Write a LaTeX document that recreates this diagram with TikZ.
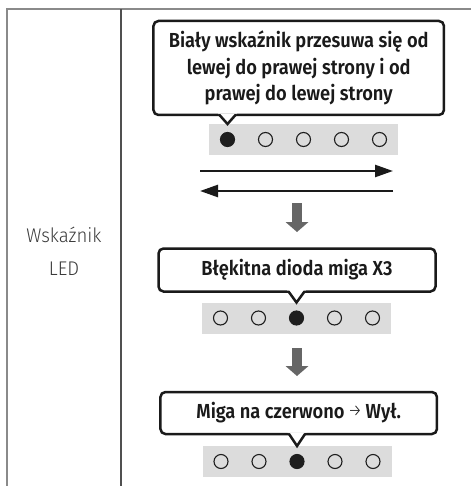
\documentclass[tikz,border=0pt]{standalone}
\usepackage{fontspec}
\setmainfont{Fira Sans}
\newfontfamily\bubblefont{Fira Sans SemiBold}[FakeStretch=0.9]
\newfontfamily\labelfont{Fira Sans Light}[FakeStretch=0.94]
\usetikzlibrary{arrows.meta, positioning, calc}
\definecolor{cFrame}{HTML}{8A8A8A}
\definecolor{cDivide}{HTML}{505050}
\definecolor{cBar}{HTML}{DCDCDC}
\definecolor{cDot}{HTML}{1E1E1E}
\definecolor{cStep}{HTML}{666666}
\definecolor{cLabel}{HTML}{3A3A3A}
\definecolor{cText}{HTML}{1A1A1A}

\begin{document}
\begin{tikzpicture}[
  x=1pt, y=-1pt,
  node distance=24pt,
  bubble/.style={draw=cText, fill=white, line width=2.5pt, rounded corners=5pt, outer sep=0pt, inner sep=0pt, align=center, text=cText, font=\bubblefont\fontsize{20.3}{26.7}\selectfont},
  pointer/.style={draw=cText, line width=2.5pt, line join=miter, line cap=round},
  ledbar/.style={rectangle, fill=cBar, minimum width=189pt, minimum height=31pt, inner sep=0pt, outer sep=0pt},
  ledoff/.style={circle, draw=cDot, line width=1.1pt, minimum size=14pt, inner sep=0pt, outer sep=0pt},
  ledon/.style={ledoff, fill=cDot},
  movearrow/.style={draw=cText, line width=2.5pt, -{Triangle[length=18pt, width=12pt]}},
  steparrow/.style={draw=cStep, line width=10pt, -{Triangle[length=10pt, width=23pt, line width=0pt]}},
  rowlabel/.style={align=center, text=cLabel, font=\labelfont\fontsize{19.8}{33}\selectfont}
]
\useasboundingbox (0,0) rectangle (471,486);

\coordinate (tl) at (7,9);
\coordinate (tr) at (471,9);
\coordinate (bl) at (7,486);
\coordinate (mt) at (121,9);
\coordinate (mb) at (121,486);
\draw[cFrame, line width=1.5pt] (bl) -- (tl) -- (tr);
\draw[cDivide, line width=1.2pt] (mt) -- (mb);

\node[rowlabel] (lbl) at (64,251) {Wskaźnik\\LED};

\node[ledbar] (bar1) at (303.5,139.5) {};
\node[ledoff] (a3) at (bar1) {};
\node[ledoff, left=of a3] (a2) {};
\node[ledon, left=of a2] (a1) {};
\node[ledoff, right=of a3] (a4) {};
\node[ledoff, right=of a4] (a5) {};

\node[bubble, minimum width=290.5pt, minimum height=94pt] (b1) at (298.7,68)
  {Biały wskaźnik przesuwa się od\\lewej do prawej strony i od\\prawej do lewej strony};
\fill[white] ($(b1.south -| a1)+(-9.5,-1.6)$) -- (a1 |- bar1.north) -- ($(b1.south -| a1)+(9.5,-1.6)$) -- cycle;
\draw[pointer] ($(b1.south -| a1)+(-8,0)$) -- (a1 |- bar1.north) -- ($(b1.south -| a1)+(8,0)$);

\coordinate (r1) at (200,171);
\coordinate (r2) at (393,171);
\coordinate (l1) at (393,191);
\coordinate (l2) at (200,191);
\draw[movearrow] (r1) -- (r2);
\draw[movearrow] (l1) -- (l2);

\coordinate (s1) at (297,203);
\coordinate (s2) at (297,232);
\draw[steparrow] (s1) -- (s2);

\node[ledbar] (bar2) at (296.5,318) {};
\node[ledon] (c3) at (bar2) {};
\node[ledoff, left=of c3] (c2) {};
\node[ledoff, left=of c2] (c1) {};
\node[ledoff, right=of c3] (c4) {};
\node[ledoff, right=of c4] (c5) {};

\node[bubble, minimum width=277pt, minimum height=43pt] (b2) at (297,270) {Błękitna dioda miga X3};
\fill[white] ($(b2.south -| c3)+(-9.5,-1.6)$) -- (c3 |- bar2.north) -- ($(b2.south -| c3)+(9.5,-1.6)$) -- cycle;
\draw[pointer] ($(b2.south -| c3)+(-8,0)$) -- (c3 |- bar2.north) -- ($(b2.south -| c3)+(8,0)$);

\coordinate (t1) at (297,348);
\coordinate (t2) at (297,376);
\draw[steparrow] (t1) -- (t2);

\node[ledbar] (bar3) at (297,461.5) {};
\node[ledon] (e3) at (bar3) {};
\node[ledoff, left=of e3] (e2) {};
\node[ledoff, left=of e2] (e1) {};
\node[ledoff, right=of e3] (e4) {};
\node[ledoff, right=of e4] (e5) {};

\node[bubble, minimum width=276.5pt, minimum height=42pt] (b3) at (298.7,413) {Miga na czerwono\,\raisebox{2pt}{\labelfont\fontsize{17}{17}\selectfont→}\,Wył.};
\fill[white] ($(b3.south -| e3)+(-9.5,-1.6)$) -- (e3 |- bar3.north) -- ($(b3.south -| e3)+(9.5,-1.6)$) -- cycle;
\draw[pointer] ($(b3.south -| e3)+(-8,0)$) -- (e3 |- bar3.north) -- ($(b3.south -| e3)+(8,0)$);
\end{tikzpicture}
\end{document}
